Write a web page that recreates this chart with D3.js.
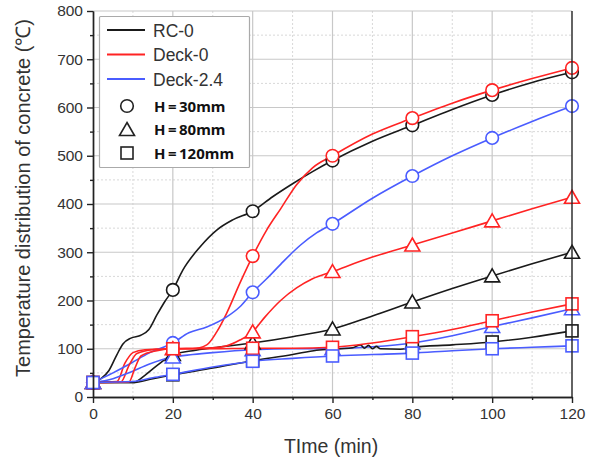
<!DOCTYPE html>
<html><head><meta charset="utf-8">
<script src="https://cdn.jsdelivr.net/npm/d3@7"></script>
<style>body{margin:0;background:#fff}svg{display:block}</style>
</head><body>
<svg id="c" width="597" height="462"></svg>
<script>
// ---- data ----
const xTicks = [0, 20, 40, 60, 80, 100, 120];
const yTicks = [0, 100, 200, 300, 400, 500, 600, 700, 800];
const markerTimes = [0, 20, 40, 60, 80, 100, 120];
const groups = ["RC-0", "Deck-0", "Deck-2.4"];
const depths = ["H=30mm", "H=80mm", "H=120mm"];

const rc0_h30 = [[0,30],[2,38],[4,55],[6,88],[7.5,110],[9.5,122],[12,128],[14,140],[16,170],[18,198],[20,222],[22.5,263],[26.8,311],[31,346],[35,367],[40,385],[45,415],[50,442],[55,467],[60,490],[70,530],[80,563],[90,596],[100,626],[110,652],[120,673]];
const rc0_h80 = [[0,30],[10,30],[13,45],[16,65],[20,88],[25,96],[30,102],[40,112],[50,125],[60,141],[70,168],[80,197],[90,225],[100,251],[110,276],[120,300]];
const rc0_h120 = [[0,30],[10,30],[15,38],[20,46],[30,60],[40,75],[50,88],[56,97],[62,100],[65,102],[67,108],[68,101],[69,107],[70,100],[71,105],[72,100],[77,99],[80,103],[90,108],[100,114],[110,124],[120,137]];
const deck0_h30 = [[0,30],[6,32],[8,70],[10,92],[13,98],[20,100],[25,100],[28.5,108],[31,135],[33.5,174],[36.8,236],[40,292],[43.5,346],[47,390],[51,440],[55,475],[60,500],[70,545],[80,578],[90,609],[100,636],[110,660],[120,682]];
const deck0_h80 = [[0,30],[7,31],[9,65],[11,90],[15,98],[20,100],[25,101],[30,102],[33.5,106],[36.8,118],[40,135],[43,165],[47,200],[51,226],[55,245],[60,260],[70,290],[80,315],[90,340],[100,365],[110,390],[120,414]];
const deck0_h120 = [[0,30],[9,31],[10.5,60],[12,85],[16,96],[20,100],[30,100],[40,101],[50,101],[60,103],[70,112],[80,125],[90,140],[100,158],[110,176],[120,193]];
const deck24_h30 = [[0,30],[5,50],[9.5,70],[14,91],[20,112],[24,133],[28.5,145],[33.5,166],[36.8,187],[40,217],[43.5,245],[47,275],[52,315],[56,340],[60,359],[70,412],[80,458],[90,500],[100,537],[110,571],[120,603]];
const deck24_h80 = [[0,30],[5,38],[9.5,52],[14,68],[20,83],[25,88],[30,92],[40,98],[50,100],[60,100],[70,104],[80,112],[90,127],[100,146],[110,164],[120,183]];
const deck24_h120 = [[0,30],[10,32],[15,40],[20,47],[30,62],[40,74],[50,80],[60,85],[70,88],[80,91],[90,96],[100,100],[110,103],[120,106]];

const colors = {"RC-0": "#1a1a1a", "Deck-0": "#ff2323", "Deck-2.4": "#4a5cff"};
const shapes = {"H=30mm": "circle", "H=80mm": "triangle", "H=120mm": "square"};
const series = [
  {g:"RC-0", h:"H=30mm", d:rc0_h30}, {g:"Deck-0", h:"H=30mm", d:deck0_h30}, {g:"Deck-2.4", h:"H=30mm", d:deck24_h30},
  {g:"RC-0", h:"H=80mm", d:rc0_h80}, {g:"Deck-0", h:"H=80mm", d:deck0_h80}, {g:"Deck-2.4", h:"H=80mm", d:deck24_h80},
  {g:"RC-0", h:"H=120mm", d:rc0_h120}, {g:"Deck-0", h:"H=120mm", d:deck0_h120}, {g:"Deck-2.4", h:"H=120mm", d:deck24_h120}
];

// ---- drawing ----
const svg = d3.select("#c");
const x = d3.scaleLinear().domain([0,120]).range([93,572]);
const y = d3.scaleLinear().domain([0,800]).range([397,11]);
const font = "'Liberation Sans', Arial, sans-serif";

// grid
const grid = svg.append("g");
d3.range(10,120,20).forEach(v => grid.append("line").attr("x1",x(v)).attr("x2",x(v)).attr("y1",y(0)).attr("y2",y(800)).attr("stroke","#d8d8d8").attr("stroke-dasharray","2,2"));
d3.range(50,800,100).forEach(v => grid.append("line").attr("x1",x(0)).attr("x2",x(120)).attr("y1",y(v)).attr("y2",y(v)).attr("stroke","#d8d8d8").attr("stroke-dasharray","2,2"));
xTicks.slice(1,-1).forEach(v => grid.append("line").attr("x1",x(v)).attr("x2",x(v)).attr("y1",y(0)).attr("y2",y(800)).attr("stroke","#c8c8c8").attr("stroke-width",1.2));
yTicks.slice(1).forEach(v => grid.append("line").attr("x1",x(0)).attr("x2",x(120)).attr("y1",y(v)).attr("y2",y(v)).attr("stroke","#c8c8c8").attr("stroke-width",1.2));

// lines
const line = d3.line().x(d => x(d[0])).y(d => y(d[1])).curve(d3.curveMonotoneX);
const plot = svg.append("g");
series.forEach(s => {
  plot.append("path").attr("d", line(s.d)).attr("fill","none").attr("stroke",colors[s.g]).attr("stroke-width",1.6);
});

function drawMarker(g, shape, cx, cy, col){
  if (shape === "circle") g.append("circle").attr("cx",cx).attr("cy",cy).attr("r",6.3).attr("fill","#fff").attr("stroke",col).attr("stroke-width",1.6);
  else if (shape === "triangle") g.append("path").attr("d",`M${cx},${cy-7}L${cx+7.5},${cy+6}L${cx-7.5},${cy+6}Z`).attr("fill","#fff").attr("stroke",col).attr("stroke-width",1.6);
  else g.append("rect").attr("x",cx-6).attr("y",cy-6).attr("width",12).attr("height",12).attr("fill","#fff").attr("stroke",col).attr("stroke-width",1.6);
}
series.forEach(s => {
  s.d.filter(p => markerTimes.includes(p[0])).forEach(p => drawMarker(plot, shapes[s.h], x(p[0]), y(p[1]), colors[s.g]));
});

// axes
const xa = svg.append("g").attr("transform",`translate(0,${y(0)})`)
  .call(d3.axisBottom(x).tickValues(xTicks).tickSize(6).tickSizeOuter(0).tickPadding(5));
const xm = svg.append("g").attr("transform",`translate(0,${y(0)})`)
  .call(d3.axisBottom(x).tickValues(d3.range(10,120,20)).tickSize(3).tickFormat("").tickSizeOuter(0));
const ya = svg.append("g").attr("transform",`translate(${x(0)},0)`)
  .call(d3.axisLeft(y).tickValues(yTicks).tickSize(6).tickSizeOuter(0).tickPadding(4));
const ym = svg.append("g").attr("transform",`translate(${x(0)},0)`)
  .call(d3.axisLeft(y).tickValues(d3.range(50,800,100)).tickSize(3).tickFormat("").tickSizeOuter(0));
[xa,xm,ya,ym].forEach(a => { a.selectAll("path,line").attr("stroke","#222").attr("stroke-width",1.4); a.selectAll("text").attr("font-family",font).attr("font-size",15.5).attr("fill","#333"); });
svg.append("line").attr("x1",x(120)).attr("x2",x(120)).attr("y1",y(0)).attr("y2",y(800)).attr("stroke","#222").attr("stroke-width",1.4);

// axis titles
svg.append("text").attr("x",331).attr("y",453).attr("text-anchor","middle").attr("font-family",font).attr("font-size",19.5).attr("fill","#333").text("TIme (min)");
svg.append("text").attr("transform","translate(30,198) rotate(-90)").attr("text-anchor","middle").attr("font-family",font).attr("font-size",20).attr("fill","#333").text("Temperature distribution of concrete (℃)");

// legend
const lg = svg.append("g");
lg.append("rect").attr("x",99.5).attr("y",16.5).attr("width",150).attr("height",151).attr("fill","#fff").attr("stroke","#aaa").attr("stroke-width",1.2).attr("rx",1);
const lineRows = [30, 54.5, 79];
groups.forEach((g,i) => {
  lg.append("line").attr("x1",107).attr("x2",145).attr("y1",lineRows[i]).attr("y2",lineRows[i]).attr("stroke",colors[g]).attr("stroke-width",1.8);
  lg.append("text").attr("x",153).attr("y",lineRows[i]+6.5).attr("font-family",font).attr("font-size",17.5).attr("fill","#333").text(g);
});
const shapeRows = [106, 129.5, 153];
depths.forEach((h,i) => {
  drawMarker(lg, shapes[h], 127, shapeRows[i], "#222");
  lg.append("text").attr("x",154).attr("y",shapeRows[i]+5.5).attr("font-family","'Noto Sans', sans-serif").attr("font-weight","bold").attr("font-size",15).attr("fill","#111").text(h.replace("=", "\u2009=\u2009"));
});
</script>
</body></html>
